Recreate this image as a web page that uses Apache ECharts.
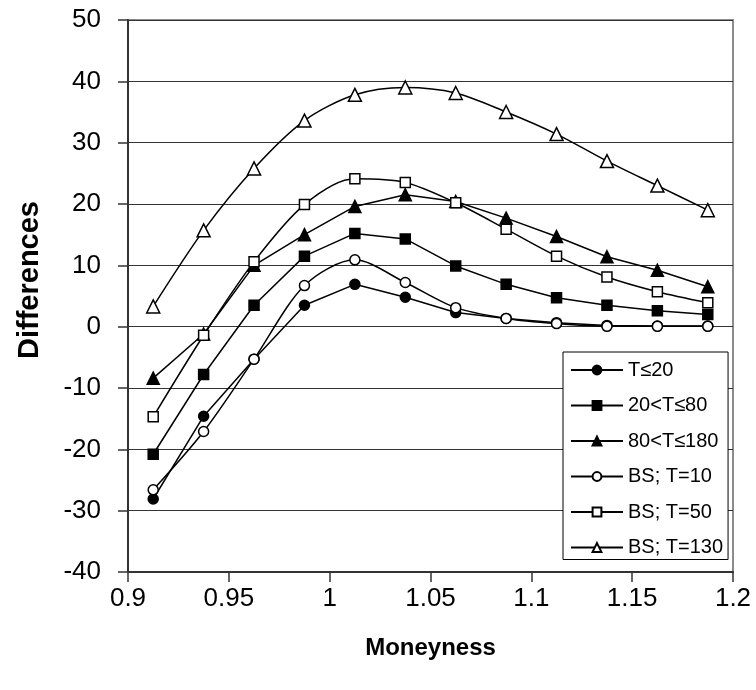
<!DOCTYPE html>
<html>
<head>
<meta charset="utf-8">
<script src="https://cdn.jsdelivr.net/npm/echarts@6/dist/echarts.min.js"></script>
<style>
html,body{margin:0;padding:0;background:#fff;}
#chart{width:756px;height:690px;}
</style>
</head>
<body>
<div id="chart"></div>
<script>
const moneyness = [0.9125, 0.9375, 0.9625, 0.9875, 1.0125, 1.0375, 1.0625, 1.0875, 1.1125, 1.1375, 1.1625, 1.1875];
const seriesNames = ['T≤20', '20<T≤80', '80<T≤180', 'BS; T=10', 'BS; T=50', 'BS; T=130'];
const tLe20 = [-28.1, -14.6, -5.3, 3.5, 6.9, 4.8, 2.3, 1.35, 0.65, 0.2, 0.1, 0.1];
const t20to80 = [-20.8, -7.8, 3.5, 11.5, 15.2, 14.3, 9.9, 6.9, 4.7, 3.5, 2.6, 2.0];
const t80to180 = [-8.4, -1.2, 10.0, 15.0, 19.6, 21.5, 20.4, 17.7, 14.7, 11.4, 9.2, 6.5];
const bs10 = [-26.6, -17.1, -5.3, 6.7, 10.9, 7.2, 3.1, 1.35, 0.5, 0.05, 0.05, 0.05];
const bs50 = [-14.7, -1.4, 10.6, 19.9, 24.1, 23.5, 20.2, 15.9, 11.5, 8.1, 5.7, 3.9];
const bs130 = [3.3, 15.7, 25.8, 33.6, 37.8, 39.0, 38.1, 35.0, 31.4, 27.0, 23.0, 19.0];
const yTicks = [-40, -30, -20, -10, 0, 10, 20, 30, 40, 50];
const xTicks = ['0.9', '0.95', '1', '1.05', '1.1', '1.15', '1.2'];

const values = [tLe20, t20to80, t80to180, bs10, bs50, bs130];
const symbols = ['circle', 'rect', 'triangle', 'circle', 'rect', 'triangle'];
const sizes = [10, 10, 12, 10, 10, 13];
const filled = [true, true, true, false, false, false];
const smooth = [false, false, false, 0.3, 0.3, 0.3];

const FONT = '"Liberation Sans", Arial, sans-serif';

const series = values.map((vals, k) => ({
  name: seriesNames[k],
  type: 'line',
  data: vals.map((v, i) => [moneyness[i], v]),
  symbol: symbols[k],
  symbolSize: sizes[k],
  smooth: smooth[k],
  lineStyle: { color: '#000', width: 1.5 },
  itemStyle: { color: filled[k] ? '#000' : '#fff', borderColor: '#000', borderWidth: 1.5 },
  emphasis: { disabled: true },
  z: 3 + k
}));

const chart = echarts.init(document.getElementById('chart'), null, { renderer: 'canvas' });
chart.setOption({
  animation: false,
  backgroundColor: '#fff',
  grid: {
    left: 128, right: 23, top: 20, bottom: 118,
    show: true, borderColor: '#8c8c8c', borderWidth: 2, backgroundColor: 'transparent'
  },
  xAxis: {
    type: 'value', min: 0.9, max: 1.2, interval: 0.05,
    name: 'Moneyness', nameLocation: 'middle', nameGap: 64,
    nameTextStyle: { fontFamily: FONT, fontWeight: 'bold', fontSize: 24, color: '#000' },
    axisLine: { show: true, onZero: false, lineStyle: { color: '#333', width: 2 } },
    axisTick: { show: true, inside: false, length: 10, lineStyle: { color: '#333', width: 1.5 } },
    axisLabel: {
      fontFamily: FONT, fontSize: 26, color: '#000', margin: 14,
      formatter: v => xTicks[Math.round((v - 0.9) / 0.05)]
    },
    splitLine: { show: false }
  },
  yAxis: {
    type: 'value', min: -40, max: 50, interval: 10,
    name: 'Differences', nameLocation: 'middle', nameGap: 84, nameRotate: 90,
    nameTextStyle: { fontFamily: FONT, fontWeight: 'bold', fontSize: 29, color: '#000', padding: [0, 0, 0, 32] },
    axisLine: { show: true, lineStyle: { color: '#333', width: 2 } },
    axisTick: { show: true, inside: false, length: 10, lineStyle: { color: '#333', width: 1.5 } },
    axisLabel: {
      fontFamily: FONT, fontSize: 26, color: '#000', margin: 27,
      formatter: v => String(yTicks[Math.round((v + 40) / 10)])
    },
    splitLine: { show: true, lineStyle: { color: '#333', width: 1.2 } }
  },
  legend: {
    orient: 'vertical',
    left: 563, top: 352,
    padding: [8, 5, 2, 7],
    itemWidth: 52, itemHeight: 11, itemGap: 15.5,
    backgroundColor: '#fff', borderColor: '#000', borderWidth: 1,
    textStyle: { fontFamily: FONT, fontSize: 20, color: '#000', lineHeight: 20 },
    data: seriesNames,
    selectedMode: false
  },
  series: series
});
</script>
</body>
</html>
